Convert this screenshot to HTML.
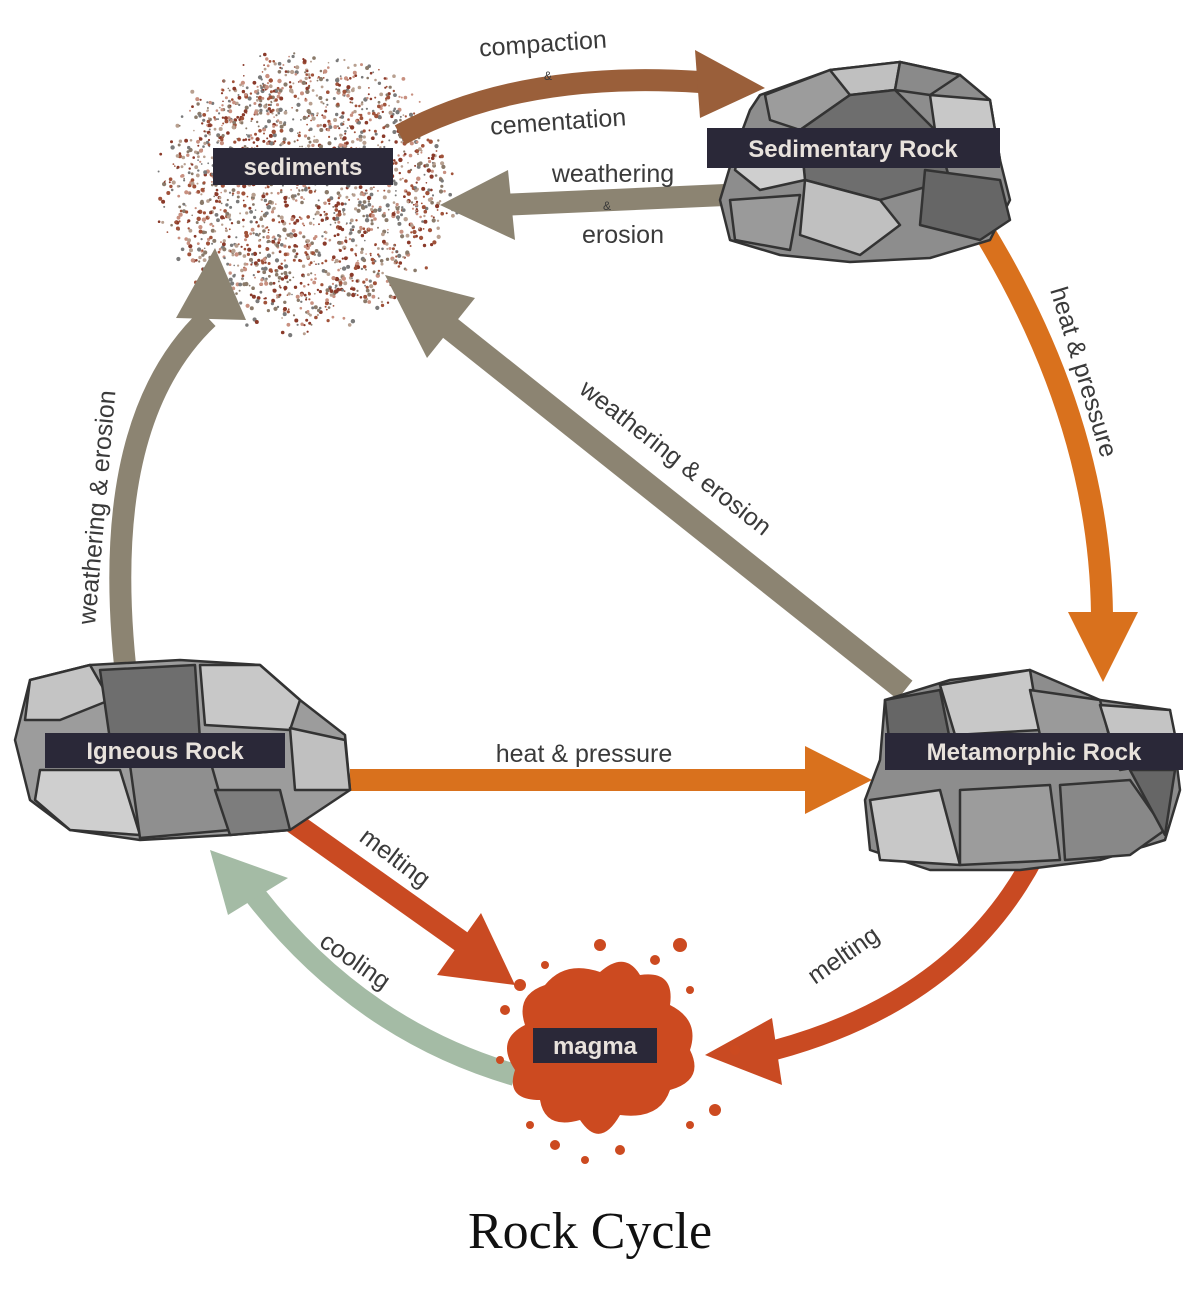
<!DOCTYPE html>
<html><head><meta charset="utf-8"><style>
body{margin:0;background:#fff}
svg{display:block}
.t{font-family:"Liberation Sans",sans-serif;font-size:25px;fill:#3a3a3a}
.s{font-family:"Liberation Sans",sans-serif;font-size:12px;fill:#3a3a3a}
.lb{font-family:"Liberation Sans",sans-serif;font-size:24px;font-weight:bold;fill:#e8e2dc}
.r{stroke:#333;stroke-width:2.5;stroke-linejoin:round}
</style></head><body>
<svg id="sv" width="1200" height="1289" viewBox="0 0 1200 1289" xmlns="http://www.w3.org/2000/svg">
<g id="sed"></g>
<g fill="none" stroke-linecap="butt">
<path d="M400,135 Q520,70 700,82" stroke="#9a5f3a" stroke-width="22"/>
<path d="M725,195 L500,205" stroke="#8c8472" stroke-width="22"/>
<path d="M980,225 Q1100,420 1102,615" stroke="#d9711d" stroke-width="22"/>
<path d="M905,690 L450,328" stroke="#8c8472" stroke-width="24"/>
<path d="M125,665 Q100,420 208,318" stroke="#8c8472" stroke-width="22"/>
<path d="M350,780 L810,780" stroke="#d9711d" stroke-width="22"/>
<path d="M290,820 L462,942" stroke="#c94a22" stroke-width="22"/>
<path d="M1035,855 Q960,1000 775,1050" stroke="#c94a22" stroke-width="20"/>
<path d="M515,1075 Q360,1030 255,895" stroke="#a4bba5" stroke-width="22"/>
</g>
<polygon points="695,50 765,88 700,118" fill="#9a5f3a"/>
<polygon points="508,170 440,205 515,240" fill="#8c8472"/>
<polygon points="1068,612 1103,682 1138,612" fill="#d9711d"/>
<polygon points="385,275 427,358 475,298" fill="#8c8472"/>
<polygon points="215,248 176,318 246,320" fill="#8c8472"/>
<polygon points="805,746 872,780 805,814" fill="#d9711d"/>
<polygon points="515,985 481,913 437,975" fill="#c94a22"/>
<polygon points="705,1055 772,1018 782,1085" fill="#c94a22"/>
<polygon points="210,850 228,915 288,878" fill="#a4bba5"/>
<g class="r">
<polygon points="760,95 830,70 900,62 960,75 990,100 1000,160 1010,200 990,240 930,258 850,262 780,255 730,240 720,200 735,150 750,110" fill="#8d8d8d"/>
<polygon points="765,95 830,70 850,95 800,130 770,120" fill="#9c9c9c"/>
<polygon points="830,70 900,62 895,90 850,95" fill="#c0c0c0"/>
<polygon points="900,62 960,75 930,95 895,90" fill="#8a8a8a"/>
<polygon points="930,95 990,100 1000,160 960,160 935,130" fill="#c8c8c8"/>
<polygon points="850,95 895,90 935,130 950,180 880,200 805,180 800,130" fill="#6e6e6e"/>
<polygon points="740,150 800,130 805,180 760,190 735,170" fill="#cfcfcf"/>
<polygon points="925,170 1000,180 1010,220 980,240 920,225" fill="#666"/>
<polygon points="805,180 880,200 900,225 860,255 800,235" fill="#c0c0c0"/>
<polygon points="730,200 800,195 790,250 735,240" fill="#9a9a9a"/>
</g>
<g class="r">
<polygon points="30,680 90,665 180,660 260,665 300,700 345,735 350,790 290,830 230,835 140,840 70,830 30,800 15,740" fill="#9c9c9c"/>
<polygon points="30,680 90,665 110,700 60,720 25,720" fill="#c4c4c4"/>
<polygon points="100,670 195,665 200,740 110,740" fill="#6e6e6e"/>
<polygon points="200,665 260,665 300,700 290,730 205,725" fill="#c8c8c8"/>
<polygon points="290,728 345,740 350,790 295,790" fill="#c0c0c0"/>
<polygon points="40,770 120,770 140,835 70,830 35,800" fill="#cfcfcf"/>
<polygon points="130,765 210,760 230,830 140,838" fill="#8f8f8f"/>
<polygon points="215,790 280,790 290,830 230,835" fill="#7d7d7d"/>
</g>
<g class="r">
<polygon points="885,700 950,680 1030,670 1100,700 1170,710 1180,790 1165,840 1100,860 1020,870 930,870 870,850 865,800 880,760" fill="#8d8d8d"/>
<polygon points="885,700 940,690 950,740 890,750" fill="#666"/>
<polygon points="940,685 1030,670 1040,730 955,735" fill="#c8c8c8"/>
<polygon points="1030,690 1100,700 1110,740 1040,735" fill="#9a9a9a"/>
<polygon points="1100,705 1170,710 1180,760 1120,770" fill="#c4c4c4"/>
<polygon points="870,800 940,790 960,865 880,860" fill="#c8c8c8"/>
<polygon points="960,790 1050,785 1060,860 960,865" fill="#9c9c9c"/>
<polygon points="1060,785 1130,780 1165,830 1130,855 1065,860" fill="#888"/>
<polygon points="1130,770 1175,770 1165,835" fill="#666"/>
</g>
<g fill="#cc4a20">
<path d="M545,985 Q565,960 600,972 Q625,950 640,975 Q675,970 670,1005 Q700,1020 690,1050 Q705,1080 670,1090 Q660,1120 620,1115 Q600,1150 580,1120 Q545,1130 540,1100 Q505,1100 515,1070 Q495,1040 525,1025 Q515,995 545,985Z"/>
<circle cx="520" cy="985" r="6"/><circle cx="505" cy="1010" r="5"/><circle cx="545" cy="965" r="4"/>
<circle cx="600" cy="945" r="6"/><circle cx="655" cy="960" r="5"/><circle cx="680" cy="945" r="7"/>
<circle cx="690" cy="990" r="4"/><circle cx="715" cy="1110" r="6"/><circle cx="690" cy="1125" r="4"/>
<circle cx="555" cy="1145" r="5"/><circle cx="530" cy="1125" r="4"/><circle cx="620" cy="1150" r="5"/>
<circle cx="585" cy="1160" r="4"/><circle cx="500" cy="1060" r="4"/><circle cx="735" cy="1050" r="5"/>
</g>
<rect x="213" y="148" width="180" height="37" fill="#2a2838"/>
<text class="lb" x="303" y="175" text-anchor="middle">sediments</text>
<rect x="707" y="128" width="293" height="40" fill="#2a2838"/>
<text class="lb" x="853" y="157" text-anchor="middle">Sedimentary Rock</text>
<rect x="45" y="733" width="240" height="35" fill="#2a2838"/>
<text class="lb" x="165" y="759" text-anchor="middle">Igneous Rock</text>
<rect x="885" y="733" width="298" height="37" fill="#2a2838"/>
<text class="lb" x="1034" y="760" text-anchor="middle">Metamorphic Rock</text>
<rect x="533" y="1028" width="124" height="35" fill="#2a2838"/>
<text class="lb" x="595" y="1054" text-anchor="middle">magma</text>
<text class="t" x="543" y="52" text-anchor="middle" transform="rotate(-4 543 45)">compaction</text>
<text class="s" x="548" y="80" text-anchor="middle">&amp;</text>
<text class="t" x="558" y="130" text-anchor="middle" transform="rotate(-4 558 120)">cementation</text>
<text class="t" x="613" y="182" text-anchor="middle">weathering</text>
<text class="s" x="607" y="210" text-anchor="middle">&amp;</text>
<text class="t" x="623" y="243" text-anchor="middle">erosion</text>
<text class="t" transform="translate(1050,290) rotate(73)">heat &amp; pressure</text>
<text class="t" transform="translate(578,392) rotate(38)">weathering &amp; erosion</text>
<text class="t" transform="translate(95,625) rotate(-85)">weathering &amp; erosion</text>
<text class="t" x="584" y="762" text-anchor="middle">heat &amp; pressure</text>
<text class="t" transform="translate(358,840) rotate(37)">melting</text>
<text class="t" transform="translate(318,945) rotate(35)">cooling</text>
<text class="t" transform="translate(815,985) rotate(-35)">melting</text>
<text x="590" y="1248" text-anchor="middle" style="font-family:'Liberation Serif',serif;font-size:52px;fill:#111">Rock Cycle</text>
</svg>
<script>
(function(){var g=document.getElementById('sed');var s=7;function r(){s=(s*16807)%2147483647;return s/2147483647;}
var cols=['#a0523a','#8a7a6a','#c89080','#8a3a2a','#b8a090','#7a7a7a'];var h='';
for(var i=0;i<2000;i++){var a=r()*6.283,d=Math.sqrt(r())*(120+35*r());var x=305+Math.cos(a)*d*1.0,y=190+Math.sin(a)*d*0.95;
h+='<circle cx="'+x.toFixed(1)+'" cy="'+y.toFixed(1)+'" r="'+(0.8+r()*1.4).toFixed(1)+'" fill="'+cols[Math.floor(r()*6)]+'"/>';}
g.innerHTML=h;})();
</script>
</body></html>
